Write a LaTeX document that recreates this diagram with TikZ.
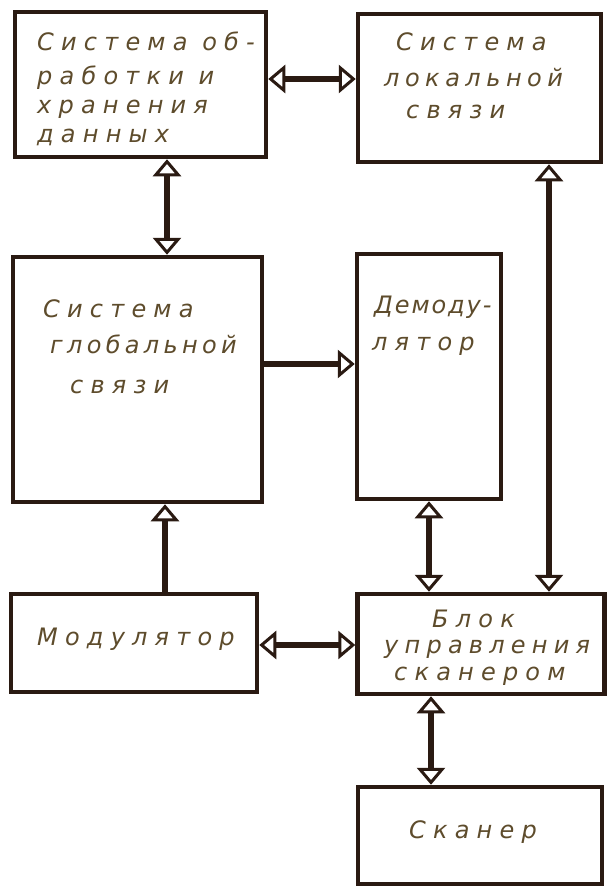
\documentclass[tikz,border=0pt]{standalone}
\usepackage{fontspec}
\setmainfont{DejaVu Sans}
\newfontfamily\hand{DejaVu Sans}[LetterSpace=30]
\usetikzlibrary{arrows.meta}
\definecolor{ink}{HTML}{2A1A12}
\definecolor{pen}{HTML}{5E4C2C}
\newcommand{\lsp}[2]{{\addfontfeature{LetterSpace=#1}#2}}
\begin{document}
\begin{tikzpicture}[x=1pt,y=-1pt,
  box/.style={draw=ink, line width=4.5pt, inner sep=0pt},
  txt/.style={anchor=base west, inner sep=0pt, text=pen, font=\hand\itshape\fontsize{24}{28}\selectfont},
  dbl/.style={draw=ink, line width=6pt,
    arrows={Triangle[open,length=17pt,width=28pt,line width=3pt]-Triangle[open,length=17pt,width=28pt,line width=3pt]}},
  one/.style={draw=ink, line width=6pt,
    arrows={-Triangle[open,length=17pt,width=28pt,line width=3pt]}}]
\fill[white] (0,0) rectangle (608,887);
\useasboundingbox (0,0) rectangle (608,887);
% boxes
\node[box, minimum width=251pt, minimum height=145pt] (A) at (140.5,84.5) {};
\node[box, minimum width=243pt, minimum height=148pt] (B) at (479.5,88) {};
\node[box, minimum width=249pt, minimum height=245pt] (C) at (137.5,379.5) {};
\node[box, minimum width=144pt, minimum height=245pt] (D) at (429,376.5) {};
\node[box, minimum width=246pt, minimum height=98pt] (E) at (134,643) {};
\node[box, minimum width=247pt, minimum height=100pt] (F) at (481,644) {};
\node[box, minimum width=244pt, minimum height=97pt] (G) at (480,835.5) {};
% texts
\node[txt] (a1) at (37,50) {Система об-};
\node[txt] (a2) at (37,84) {работки и};
\node[txt] (a3) at (37,113) {хранения};
\node[txt] (a4) at (37,142) {данных};
\node[txt] (b1) at (396,50) {Система};
\node[txt] (b2) at (384,86) {\lsp{23}{локальной}};
\node[txt] (b3) at (406,118) {связи};
\node[txt] (c1) at (43,317) {Система};
\node[txt] (c2) at (50,353) {\lsp{18}{глобальной}};
\node[txt] (c3) at (70,393) {связи};
\node[txt] (d1) at (374,313) {\lsp{8}{Демоду-}};
\node[txt] (d2) at (372,350) {лятор};
\node[txt] (e1) at (37,645) {Модулятор};
\node[txt] (f1) at (432,627) {Блок};
\node[txt] (f2) at (384,653) {\lsp{26}{управления}};
\node[txt] (f3) at (394,680) {сканером};
\node[txt] (g1) at (409,838) {Сканер};
% connectors
\draw[dbl] ([yshift=5.5pt]A.east) -- ([yshift=5.5pt]A.east -| B.west);
\draw[dbl] ([xshift=26.5pt]A.south) -- ([xshift=26.5pt]A.south |- C.north);
\draw[one] ([yshift=15.5pt]C.east) -- ([yshift=15.5pt]C.east -| D.west);
\draw[dbl] ([xshift=69.5pt]B.south) -- ([xshift=69.5pt]B.south |- F.north);
\draw[dbl] (D.south) -- (D.south |- F.north);
\draw[one] ([xshift=31pt]E.north) -- ([xshift=31pt]E.north |- C.south);
\draw[dbl] ([yshift=-2pt]E.east) -- ([yshift=-2pt]E.east -| F.west);
\draw[dbl] ([xshift=-50pt]F.south) -- ([xshift=-50pt]F.south |- G.north);
\end{tikzpicture}
\end{document}
